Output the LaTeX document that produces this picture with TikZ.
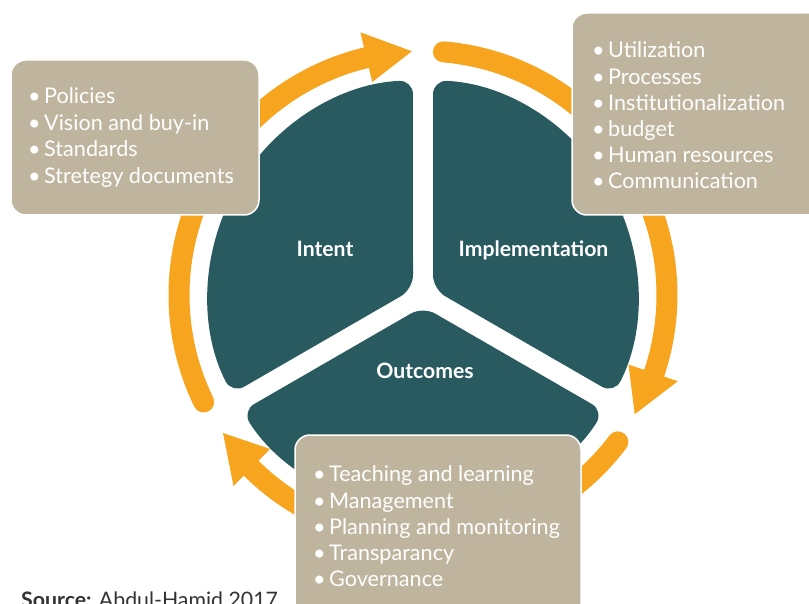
\documentclass[tikz,border=0pt]{standalone}
\usepackage{fontspec}
\setmainfont{Lato}
\definecolor{pieteal}{HTML}{285A60}
\definecolor{ringorange}{HTML}{F7A41F}
\definecolor{boxtan}{HTML}{BFB49E}
\definecolor{srcgray}{HTML}{333333}
\newcommand{\mybul}{\makebox[16pt][l]{•}}
\tikzset{
  sector/.style={fill=pieteal, rounded corners=14pt},
  shaft/.style={draw=ringorange, line width=21pt},
  headtri/.style={fill=ringorange},
  infobox/.style={fill=boxtan, draw=white, line width=1.5pt, rounded corners=15pt},
  bullettext/.style={anchor=base west, inner sep=0pt, text=white, font=\fontsize{21.6}{26}\selectfont},
  sectorlabel/.style={anchor=base, inner sep=0pt, text=white, font=\fontsize{21.2}{25}\selectfont\bfseries},
}
\begin{document}
\begin{tikzpicture}[x=1pt,y=1pt]
\useasboundingbox (0,-604) rectangle (809,0);
\fill[white] (0,-604) rectangle (809,0);
\begin{scope}[shift={(423,-295)}]
  % ring arrows
  \draw[shaft, line cap=round] (206:244) arc[start angle=206, end angle=102.5, radius=244];
  \fill[headtri] (103.4:219) -- (92.6:244) -- (103.4:270) -- cycle;
  \draw[shaft, line cap=round] (85.2:244) arc[start angle=85.2, end angle=-19.6, radius=244];
  \fill[headtri] (-18.7:217) -- (-29.4:243) -- (-18.7:269) -- cycle;
  \draw[shaft, line cap=round] (-37:244) arc[start angle=-37, end angle=-135.7, radius=244];
  \fill[headtri] (225.2:217) -- (214.6:243) -- (225.2:269) -- cycle;
  % sectors
  \fill[sector] (150:11.55) -- (92.67:215) arc[start angle=92.67, end angle=207.33, radius=215] -- cycle;
  \fill[sector] (30:11.55) -- (87.33:215) arc[start angle=87.33, end angle=-27.33, radius=215] -- cycle;
  \fill[sector] (270:11.55) -- (212.67:215) arc[start angle=212.67, end angle=327.33, radius=215] -- cycle;
\end{scope}
% labels
\node[sectorlabel] (lintent) at (325,-256.7) {Intent};
\node[sectorlabel] (limpl) at (533.5,-256.7) {Implementation};
\node[sectorlabel] (lout) at (425,-378.3) {Outcomes};
% boxes
\path[infobox] (11,-60) rectangle (259,-215);
\path[infobox] (572,-13) rectangle (830,-215);
\path[infobox] (295,-435) rectangle (581,-625);
% intent bullets
\node[bullettext] (i1) at (28,-104) {\mybul Policies};
\node[bullettext] (i2) at (28,-130.5) {\mybul Vision and buy-in};
\node[bullettext] (i3) at (28,-157) {\mybul Standards};
\node[bullettext] (i4) at (28,-183.5) {\mybul Stretegy documents};
% implementation bullets
\node[bullettext] (m1) at (592,-58) {\mybul Utilization};
\node[bullettext] (m2) at (592,-84.5) {\mybul Processes};
\node[bullettext] (m3) at (592,-110.5) {\mybul Institutionalization};
\node[bullettext] (m4) at (592,-137) {\mybul budget};
\node[bullettext] (m5) at (592,-163) {\mybul Human resources};
\node[bullettext] (m6) at (592,-189) {\mybul Communication};
% outcomes bullets
\node[bullettext] (o1) at (313,-481.7) {\mybul Teaching and learning};
\node[bullettext] (o2) at (313,-508) {\mybul Management};
\node[bullettext] (o3) at (313,-534) {\mybul Planning and monitoring};
\node[bullettext] (o4) at (313,-560) {\mybul Transparancy};
\node[bullettext] (o5) at (313,-586.7) {\mybul Governance};
% source
\node[anchor=base west, inner sep=0pt, text=srcgray, font=\fontsize{21.3}{24}\selectfont] (src) at (21,-607.5) {\textbf{Source:} Abdul-Hamid 2017};
\end{tikzpicture}
\end{document}
